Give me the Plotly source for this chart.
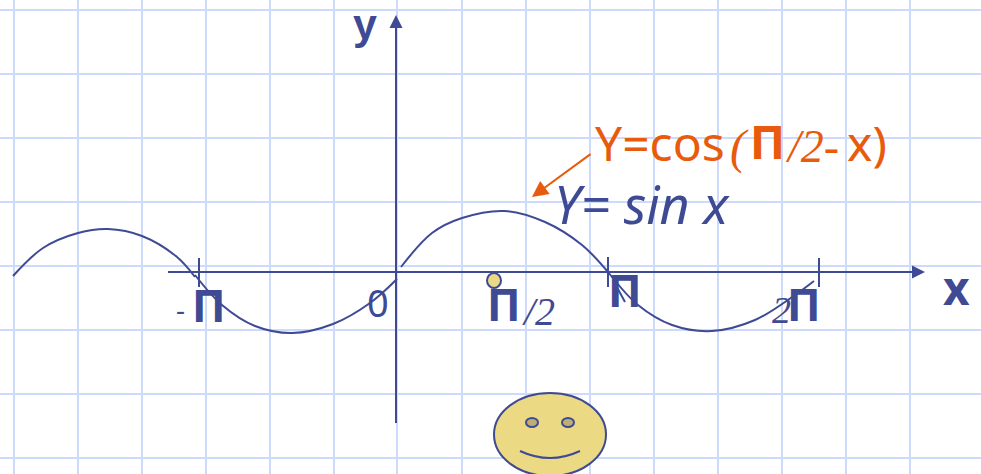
import plotly.graph_objects as go

# curve, in picture units
left_x = [13, 43, 78, 108, 142, 177, 195]
left_y = [276, 248, 233, 229, 236, 257, 277]
mid_x = [195, 222, 255, 292, 333, 370, 397]
mid_y = [275, 305, 326, 333, 324, 303, 279]
right_x = [401, 432, 462, 505, 545, 582, 608]
right_y = [267, 233, 218, 211, 222, 245, 272]
right2_x = [608, 638, 672, 712, 755, 795, 814]
right2_y = [272, 305, 325, 331, 320, 295, 281]

grid_x = [14, 78, 142, 206, 270, 334, 397, 462, 526, 590, 654, 718, 782, 846, 910]
grid_y = [10, 74, 138, 202, 266, 330, 394, 458]

blue = "#3f4a94"
orange = "#e85a0c"
yellow = "#ebd984"
grid = "#cddafb"
sans = "Noto Sans"
serif = "Liberation Serif"

# text, x, y, size, colour, family, bold, italic
labels = [
    ("y", 365, 24, 43, blue, "Liberation Sans", True, False),
    ("x", 956, 287, 46, blue, sans, True, False),
    ("0", 378, 302, 38, blue, sans, False, False),
    ("-", 180, 309, 28, blue, sans, False, False),
    ("П", 209, 305, 44, blue, sans, True, False),
    ("П", 504, 304, 44, blue, sans, True, False),
    ("/2", 538, 311, 40, blue, serif, False, True),
    ("П", 625, 290, 44, blue, sans, True, False),
    ("2", 781, 310, 38, blue, serif, False, True),
    ("П", 804, 304, 44, blue, sans, True, False),
    ("Y=cos", 660, 142, 48, orange, sans, False, False),
    ("(", 739, 147, 48, orange, serif, False, True),
    ("П", 767, 141, 46, orange, sans, True, False),
    ("/2-", 812, 146, 46, orange, serif, False, True),
    ("x)", 867, 142, 48, orange, sans, False, False),
    ("Y= sin x", 642, 203, 52, blue, sans, False, True),
]

fig = go.Figure()
for xs, ys in [(left_x, left_y), (mid_x, mid_y), (right_x, right_y), (right2_x, right2_y)]:
    fig.add_trace(go.Scatter(x=xs, y=ys, mode="lines", line=dict(color=blue, width=2, shape="spline", smoothing=1.0),
                             hoverinfo="skip", showlegend=False))

# axes and ticks
segments = [(168, 272, 915, 272), (396, 423, 396, 26), (199, 258, 199, 287), (608, 257, 608, 287),
            (819, 258, 819, 287), (613, 280, 625, 302)]
for x0, y0, x1, y1 in segments:
    fig.add_shape(type="line", x0=x0, y0=y0, x1=x1, y1=y1, line=dict(color=blue, width=2))

fig.add_annotation(x=925, y=272, ax=905, ay=272, xref="x", yref="y", axref="x", ayref="y", text="",
                   showarrow=True, arrowhead=2, arrowsize=1.3, arrowwidth=2, arrowcolor=blue)
fig.add_annotation(x=396, y=15, ax=396, ay=35, xref="x", yref="y", axref="x", ayref="y", text="",
                   showarrow=True, arrowhead=2, arrowsize=1.3, arrowwidth=2, arrowcolor=blue)
fig.add_annotation(x=532, y=197, ax=592, ay=153, xref="x", yref="y", axref="x", ayref="y", text="",
                   showarrow=True, arrowhead=2, arrowsize=1.6, arrowwidth=2, arrowcolor=orange)

# dot on the axis and the smiley
fig.add_shape(type="circle", x0=487, y0=273, x1=501, y1=288, fillcolor=yellow, line=dict(color=blue, width=2))
fig.add_shape(type="circle", x0=494, y0=393, x1=606, y1=476, fillcolor=yellow, line=dict(color=blue, width=2))
fig.add_shape(type="circle", x0=526, y0=418, x1=538, y1=427, fillcolor="#bdae74", line=dict(color=blue, width=2))
fig.add_shape(type="circle", x0=562, y0=418, x1=574, y1=427, fillcolor="#bdae74", line=dict(color=blue, width=2))
fig.add_shape(type="path", path="M 520 451 Q 550 465 580 451", line=dict(color=blue, width=2))

for text, x, y, size, colour, family, bold, italic in labels:
    fig.add_annotation(x=x, y=y, xref="x", yref="y", text=text, showarrow=False,
                       font=dict(size=size, color=colour, family=family,
                                 weight="bold" if bold else "normal",
                                 style="italic" if italic else "normal"))

fig.update_xaxes(range=[0, 981], tickmode="array", tickvals=grid_x, showgrid=True, gridcolor=grid, gridwidth=2,
                 zeroline=False, showticklabels=False, ticks="")
fig.update_yaxes(range=[474, 0], tickmode="array", tickvals=grid_y, showgrid=True, gridcolor=grid, gridwidth=2,
                 zeroline=False, showticklabels=False, ticks="")
fig.update_layout(width=981, height=474, margin=dict(l=0, r=0, t=0, b=0),
                  paper_bgcolor="white", plot_bgcolor="white", showlegend=False)
fig.write_html("out.html", config={"displayModeBar": False},
               post_script="document.body.style.margin='0';document.body.style.overflow='hidden';")
